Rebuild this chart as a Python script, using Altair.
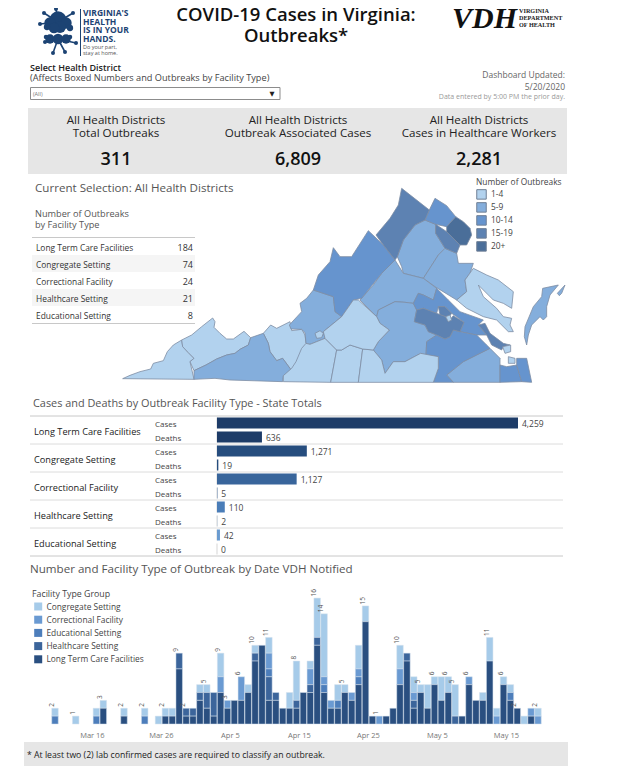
import altair as alt
import pandas as pd

FONT = "Open Sans"
W = 605

# ---------- headline figures ----------
kpi_heads = ["Total Outbreaks", "Outbreak Associated Cases", "Cases in Healthcare Workers"]
kpi_values = ["311", "6,809", "2,281"]

# ---------- outbreaks by facility ----------
table_cats = ["Long Term Care Facilities", "Congregate Setting", "Correctional Facility",
              "Healthcare Setting", "Educational Setting"]
table_vals = [184, 74, 24, 21, 8]

# ---------- cases and deaths ----------
cases = [4259, 1271, 1127, 110, 42]
deaths = [636, 19, 5, 2, 0]
case_colors = ["#1d3c68", "#264d7e", "#38659b", "#4a7db8", "#6a9bd0"]

# ---------- outbreaks per day, Mar 10 to May 19 ----------
ltc = [0,0,0,0,0,0,0,2,0,0, 1,0,0,0,0,0,1,1,7,1, 1,3,2,1,4,2,3,3,4,8, 10,3,3,2,2,2,4,4,10,4,
       2,2,4,3,5,13,1,0,1,2, 5,8,2,4,2,5,3,4,0,1, 5,3,3,8,0,5,3,2,0,1,0]
healthcare = [0,0,0,0,0,0,0,0,0,0, 0,0,0,0,0,0,0,0,2,1, 1,1,2,3,0,0,0,0,0,1, 0,3,1,0,0,1,0,1,1,0,
              0,0,0,0,0,0,0,0,0,0, 0,1,1,0,0,0,0,0,1,0, 0,0,0,0,0,0,0,0,0,0,0]
educational = [1,0,0,0,0,0,1,0,0,0, 0,0,0,1,0,0,0,0,0,0, 0,0,0,0,0,0,0,0,0,0, 0,1,0,0,0,0,0,0,0,1,
               0,1,0,0,1,0,0,0,0,0, 0,0,0,0,0,0,0,0,0,0, 0,0,0,0,0,0,1,0,0,0,0]
correctional = [0,0,0,0,0,0,0,0,0,0, 0,0,0,0,0,0,0,0,0,0, 0,0,0,0,2,1,0,3,0,0, 0,2,0,0,0,0,0,2,0,1,
                1,0,0,1,1,0,0,1,0,0, 2,0,1,0,0,0,0,0,0,0, 1,0,0,0,1,0,0,0,0,1,1]
congregate = [1,0,0,1,0,0,1,1,0,0, 1,0,0,1,0,1,1,1,0,0, 0,1,1,0,3,0,0,0,1,1, 0,2,0,0,2,5,0,1,5,8,
              0,2,1,0,3,2,0,0,0,0, 3,0,2,1,3,1,3,2,4,0, 0,0,1,3,1,1,1,0,1,0,1]
labeled_days = [0,3,7,10,13,16,18,19,22,24,25,27,29,31,35,38,39,42,45,47,50,53,55,57,58,60,63,65,67,70]
tick_days = ["Mar 16", "Mar 26", "Apr 5", "Apr 15", "Apr 25", "May 5", "May 15"]
group_names = ["Congregate Setting", "Correctional Facility", "Educational Setting",
               "Healthcare Setting", "Long Term Care Facilities"]
group_colors = ["#a6cbe9", "#6a9ad2", "#4d7ebb", "#3c659b", "#2a4f80"]
group_series = [congregate, correctional, educational, healthcare, ltc]

# ---------- map legend ----------
bins = ["1-4", "5-9", "10-14", "15-19", "20+"]
bin_colors = ["#b2d2ee", "#84aedc", "#6694ce", "#5d82b2", "#4a6e99"]

# ---------- health district outlines ----------
west = {
    "1-4": [
        [(8,266),(30,256),(60,245),(92,237),(100,220),(130,212),(142,185),(160,165),(185,150),(188,170),(205,188),(222,205),(210,215),(222,268)],
        [(185,150),(215,135),(245,110),(278,84),(285,95),(282,112),(300,130),(320,147),(340,147),(372,124),(392,143),(385,165),(360,178),(345,190),(320,195),(290,207),(258,225),(222,242),(210,215),(222,205),(205,188),(188,170)],
        [(430,130),(452,105),(470,115),(510,95),(515,122),(545,118),(555,135),(558,160),(570,165),(550,205),(515,242),(488,205),(470,212),(450,185),(445,160)],
    ],
    "5-9": [
        [(222,242),(258,225),(290,207),(320,195),(345,190),(360,178),(385,165),(392,143),(430,130),(445,160),(450,185),(470,212),(488,205),(515,242),(490,258),(488,275),(330,270),(285,265),(222,268)],
    ],
}
east = {
    "1-4": [
        [(60,478),(105,460),(140,495),(122,592),(-20,590),(-20,572),(5,550),(18,530),(35,490),(48,475)],
        [(140,495),(155,495),(180,480),(218,492),(205,592),(122,592)],
        [(218,492),(250,495),(275,525),(285,565),(310,530),(345,530),(392,505),(445,515),(445,550),(430,592),(205,592)],
        [(205,345),(260,395),(270,415),(298,435),(265,470),(250,495),(218,492),(180,480),(155,495),(140,495),(105,460),(100,440),(155,395),(190,345)],
        [(550,250),(590,270),(625,285),(670,320),(665,370),(640,355),(610,345),(565,300),(580,335),(620,370),(640,395),(665,400),(660,420),(670,440),(655,440),(620,405),(580,395),(530,370),(500,345),(530,320),(525,285)],
        [(638,485),(662,480),(662,500),(645,505)],
        [(655,515),(675,520),(675,535),(655,535)],
        [(467,395),(480,390),(485,405),(475,410)],
        [(75,445),(90,437),(100,445),(95,458),(80,460)],
    ],
    "5-9": [
        [(70,315),(130,335),(135,380),(155,395),(100,440),(105,460),(60,478),(48,475),(45,443),(35,433),(3,432),(-2,420),(35,380),(30,355),(50,340)],
        [(405,105),(437,118),(437,145),(465,190),(445,210),(400,280),(340,265),(335,245),(322,215),(340,165),(375,120)],
        [(465,190),(500,205),(505,235),(550,235),(540,265),(525,285),(530,320),(500,345),(435,305),(400,280),(445,210)],
        [(315,225),(340,265),(400,280),(440,310),(430,345),(400,330),(385,325),(370,355),(345,352),(315,350),(265,375),(260,395),(210,345),(250,300),(275,265)],
        [(260,395),(265,375),(315,350),(345,352),(370,355),(380,375),(373,410),(405,420),(415,440),(440,450),(410,470),(408,510),(392,505),(345,530),(310,530),(285,565),(275,525),(250,495),(265,470),(298,435),(270,415)],
        [(470,570),(520,530),(600,490),(630,520),(630,592),(490,592)],
    ],
    "10-14": [
        [(130,188),(150,215),(185,215),(235,137),(280,180),(315,225),(275,265),(215,340),(190,345),(155,395),(135,380),(130,335),(70,315),(85,270),(120,230)],
        [(435,40),(470,62),(497,95),(470,125),(437,118),(405,105),(418,75)],
        [(440,310),(475,345),(510,380),(580,405),(565,420),(590,450),(560,450),(510,440),(522,412),(500,395),(485,385),(465,365),(445,365),(440,385),(400,370),(380,375),(370,355),(385,325),(400,330),(430,345)],
        [(410,470),(440,450),(465,462),(480,455),(490,435),(510,440),(560,450),(590,480),(600,490),(520,530),(470,570),(490,592),(430,592),(445,550),(445,515),(408,510)],
        [(630,540),(650,545),(680,540),(695,590),(630,592)],
        [(680,520),(710,520),(725,592),(695,590),(680,540)],
    ],
    "15-19": [
        [(335,10),(418,75),(405,105),(375,120),(340,165),(322,215),(315,225),(280,180),(258,150),(300,100),(325,60)],
        [(437,118),(470,140),(510,180),(500,205),(465,190),(437,145)],
        [(445,365),(465,365),(485,385),(480,392),(467,395),(450,390)],
        [(400,370),(440,385),(467,395),(475,410),(490,392),(522,412),(510,440),(490,435),(480,455),(465,462),(440,450),(415,440),(405,420),(373,410),(380,375)],
        [(565,420),(585,415),(600,445),(640,475),(660,480),(640,485),(635,495),(605,480),(590,450)],
    ],
    "20+": [
        [(497,95),(520,110),(540,130),(545,150),(530,180),(510,180),(470,140),(470,125)],
    ],
}
shore = [(128,40),(175,30),(150,60),(140,95),(140,125),(130,135),(120,125),(95,150),(85,180),(80,210),(73,185),(75,155),(100,95),(125,65)]
shore_isle = [(172,55),(195,30),(185,55),(178,62)]

M_TOP = 176

def feature(ring, b):
    ring = [list(p) for p in ring]
    ring.append(ring[0])
    return {"type": "Feature", "properties": {"bin": b},
            "geometry": {"type": "Polygon", "coordinates": [ring]}}

features = []
for b, rings in west.items():
    for r in rings:
        features.append(feature([(120 + x / 3 - 8, 290 + y / 3 - M_TOP) for x, y in r], b))
for b in bins:
    for r in east.get(b, []):
        if b == "1-4":
            continue
        features.append(feature([(290 + x / 3 - 8, 185 + y / 3 - M_TOP) for x, y in r], b))
for r in east["1-4"]:
    features.append(feature([(290 + x / 3 - 8, 185 + y / 3 - M_TOP) for x, y in r], "1-4"))
for r in (shore, shore_isle):
    features.append(feature([(500 + x / 3 - 8, 275 + y / 3 - M_TOP) for x, y in r], "5-9"))

# ---------- logo shapes ----------
logo_spikes_x = [44, 56, 73, 40, 45, 53, 65, 76]
logo_spikes_y = [13, 9, 13, 24, 42, 53, 52, 43]
logo_body_x = [58, 66, 50, 60, 54, 47, 70]
logo_body_y = [20, 23, 23, 27, 28, 27, 28]
logo_body_r = [300, 130, 130, 140, 110, 40, 40]
logo_low_x = [50, 58, 66, 46, 70]
logo_low_y = [39, 39, 39, 37, 37]
logo_low_r = [90, 110, 90, 20, 20]


def text(s, x, y, top, size=9, color="#444444", weight="normal", align="left",
         font=FONT, italic=False):
    kw = {"fontStyle": "italic"} if italic else {}
    return alt.Chart(alt.Data(values=[{"t": s}])).mark_text(
        fontSize=size, color=color, fontWeight=weight, align=align, baseline="middle",
        font=font, clip=True, **kw
    ).encode(x=alt.value(x - 8), y=alt.value(y + 1 - top), text="t:N")


def box(x0, x1, y0, y1, top, fill, stroke=None):
    kw = {"stroke": stroke, "strokeWidth": 1} if stroke else {}
    return alt.Chart(alt.Data(values=[{"k": 1}])).mark_rect(fill=fill, **kw).encode(
        x=alt.value(x0 - 8), x2=alt.value(x1 - 8), y=alt.value(y0 - top), y2=alt.value(y1 - top))


def hline(x0, x1, y, top, color):
    return alt.Chart(alt.Data(values=[{"k": 1}])).mark_rule(color=color, strokeWidth=1).encode(
        x=alt.value(x0 - 8), x2=alt.value(x1 - 8), y=alt.value(y - top))


# ---------- header panel ----------
T0 = 8
NAVY = "#1c4373"
spike_df = pd.DataFrame({"x0": [50] * 8, "y0": [14] * 4 + [31] * 4,
                         "x": [v - 8 for v in logo_spikes_x], "y": [v - 8 for v in logo_spikes_y]})
body_df = pd.DataFrame({"x": [v - 8 for v in logo_body_x], "y": [v - 8 for v in logo_body_y], "r": logo_body_r})
low_df = pd.DataFrame({"x": [v - 8 for v in logo_low_x], "y": [v - 8 for v in logo_low_y], "r": logo_low_r})
tip_df = spike_df[["x", "y"]]

spikes = alt.Chart(spike_df).mark_rule(color=NAVY, strokeWidth=1.6, clip=True).encode(
    x=alt.X("x0:Q", scale=None, axis=None), x2="x:Q",
    y=alt.Y("y0:Q", scale=None, axis=None), y2="y:Q")
tips = alt.Chart(tip_df).mark_circle(color=NAVY, opacity=1, size=16, clip=True).encode(
    x=alt.X("x:Q", scale=None, axis=None), y=alt.Y("y:Q", scale=None, axis=None))
bodies = alt.Chart(pd.concat([body_df, low_df])).mark_circle(color=NAVY, opacity=1, clip=True).encode(
    x=alt.X("x:Q", scale=None, axis=None), y=alt.Y("y:Q", scale=None, axis=None),
    size=alt.Size("r:Q", scale=None, legend=None))

header_layers = [
    spikes, tips, bodies,
    box(80, 81, 9, 56, T0, NAVY),
    text("VIRGINIA'S", 83, 12, T0, 8.5, NAVY, "bold"),
    text("HEALTH", 83, 20.5, T0, 8.5, NAVY, "bold"),
    text("IS IN YOUR", 83, 29, T0, 8.5, NAVY, "bold"),
    text("HANDS.", 83, 37.5, T0, 8.5, NAVY, "bold"),
    text("Do your part,", 83, 46, T0, 5.5, "#555555"),
    text("stay at home.", 83, 52, T0, 5.5, "#555555"),
    text("COVID-19 Cases in Virginia:", 296, 14, T0, 18.5, "#111111", 600, "center"),
    text("Outbreaks*", 296, 35, T0, 18.5, "#111111", 600, "center"),
    text("VDH", 452, 18, T0, 30, "#111111", "bold", "left", "Liberation Serif", True),
    text("VIRGINIA", 519, 10, T0, 6.2, "#222222", "bold", "left", "Liberation Serif"),
    text("DEPARTMENT", 519, 17, T0, 6.2, "#222222", "bold", "left", "Liberation Serif"),
    text("OF HEALTH", 519, 24, T0, 6.2, "#222222", "bold", "left", "Liberation Serif"),
    text("Select Health District", 30, 67, T0, 9, "#222222", 600),
    text("(Affects Boxed Numbers and Outbreaks by Facility Type)", 30, 77, T0, 9.2, "#444444"),
    box(30.5, 280, 87.5, 99.5, T0, "#ffffff", "#8c8c8c"),
    text("(All)", 33, 93, T0, 5.5, "#777777"),
    text("\u25bc", 272, 93, T0, 6.5, "#222222", "normal", "center", "DejaVu Sans"),
    text("Dashboard Updated:", 565, 74, T0, 8.5, "#666666", "normal", "right"),
    text("5/20/2020", 565, 86, T0, 8.5, "#666666", "normal", "right"),
    text("Data entered by 5:00 PM the prior day.", 565, 96, T0, 7, "#999999", "normal", "right"),
    box(28, 567, 108, 174, T0, "#e6e6e6"),
]
for cx, head, val in zip([116, 298, 479], kpi_heads, kpi_values):
    header_layers += [
        text("All Health Districts", cx, 120, T0, 11.6, "#222222", "normal", "center"),
        text(head, cx, 133, T0, 11.6, "#222222", "normal", "center"),
        text(val, cx, 159, T0, 18, "#111111", 600, "center"),
    ]
panel_header = alt.layer(*header_layers).properties(width=W, height=M_TOP - T0)

# ---------- map and table panel ----------
districts = alt.Chart(alt.Data(values=features)).mark_geoshape(
    stroke="#7d8da3", strokeWidth=0.8
).encode(
    color=alt.Color("properties.bin:N", scale=alt.Scale(domain=bins, range=bin_colors),
                    legend=alt.Legend(title="Number of Outbreaks", orient="none", legendX=468, legendY=2,
                                      symbolType="square", symbolSize=90, symbolStrokeColor="#6f7f95",
                                      symbolStrokeWidth=1, symbolOpacity=1,
                                      titleFont=FONT, titleFontSize=8.4, titleFontWeight="normal", titleColor="#444444",
                                      labelFont=FONT, labelFontSize=8.4, labelColor="#444444",
                                      rowPadding=-2, titlePadding=2.5))
).project(type="identity", scale=1, translate=[0, 0])

table_df = pd.DataFrame({"cat": table_cats, "val": table_vals})
ty = alt.Y("cat:N", scale=alt.Scale(domain=table_cats, range=[238 - M_TOP, 323 - M_TOP],
                                    paddingInner=0, paddingOuter=0), axis=None)
shade = alt.Chart(table_df[table_df.index.isin([1, 3])]).mark_rect(fill="#f5f5f5").encode(
    x=alt.value(24), x2=alt.value(187), y=ty)
names = alt.Chart(table_df).mark_text(align="left", dy=1, font=FONT, fontSize=8.4, color="#333333").encode(
    x=alt.value(28), y=ty, text="cat:N")
nums = alt.Chart(table_df).mark_text(align="right", dy=1, font=FONT, fontSize=9, color="#333333").encode(
    x=alt.value(185), y=ty, text="val:Q")

panel_map = alt.layer(
    districts, shade, names, nums,
    text("Current Selection: All Health Districts", 35, 188, M_TOP, 11.6, "#555555"),
    text("Number of Outbreaks", 35, 213, M_TOP, 9.2, "#555555"),
    text("by Facility Type", 35, 224, M_TOP, 9.2, "#555555"),
    hline(32, 195, 237.5, M_TOP, "#c8c8c8"),
    hline(32, 195, 323.5, M_TOP, "#c8c8c8"),
).properties(width=W, height=395 - M_TOP)

# ---------- cases and deaths panel ----------
B0 = 395
rows = []
for c, v, d, col in zip(table_cats, cases, deaths, case_colors):
    rows.append({"key": c + "|Cases", "cat": c, "metric": "Cases", "v": v})
    rows.append({"key": c + "|Deaths", "cat": c, "metric": "Deaths", "v": d})
bar_df = pd.DataFrame(rows)
keys = list(bar_df["key"])
by = alt.Y("key:N", scale=alt.Scale(domain=keys, range=[416 - B0, 556 - B0], paddingInner=0, paddingOuter=0), axis=None)
bx = alt.X("v:Q", scale=alt.Scale(domain=[0, 4259], range=[217 - 8, 518 - 8], nice=False), axis=None)

zero_line = alt.Chart(bar_df).mark_tick(orient="vertical", size=11, thickness=1, color="#c4c4c4").encode(
    x=alt.X("z:Q", scale=alt.Scale(domain=[0, 4259], range=[217 - 8, 518 - 8], nice=False), axis=None), y=by
).transform_calculate(z="0")
hbars = alt.Chart(bar_df).mark_bar(size=11).encode(
    x=bx, y=by,
    color=alt.Color("cat:N", scale=alt.Scale(domain=table_cats, range=case_colors), legend=None))
hvals = alt.Chart(bar_df).mark_text(align="left", dx=4, dy=1, font=FONT, fontSize=8.5, color="#444444").encode(
    x=bx, y=by, text=alt.Text("v:Q", format=","))
metric = alt.Chart(bar_df).mark_text(align="left", dy=2, font=FONT, fontSize=8, color="#444444").encode(
    x=alt.value(147), y=by, text="metric:N")
cases_only = bar_df[bar_df["metric"] == "Cases"]
fac = alt.Chart(cases_only).mark_text(align="left", dy=9, font=FONT, fontSize=9.2, color="#222222").encode(
    x=alt.value(26), y=by, text="cat:N")
seps = alt.Chart(cases_only.iloc[1:]).mark_rule(color="#dcdcdc", strokeWidth=1).encode(
    x=alt.value(22), x2=alt.value(555),
    y=alt.Y("key:N", bandPosition=0,
            scale=alt.Scale(domain=keys, range=[416 - B0, 556 - B0], paddingInner=0, paddingOuter=0), axis=None))

panel_bars = alt.layer(
    zero_line, hbars, hvals, metric, fac, seps,
    text("Cases and Deaths by Outbreak Facility Type - State Totals", 33, 403, B0, 10.9, "#555555"),
    hline(30, 563, 416, B0, "#c8c8c8"),
    hline(30, 563, 556, B0, "#c8c8c8"),
).resolve_scale(color="independent").properties(width=W, height=558 - B0)

# ---------- daily stacked bars panel ----------
D0 = 558
BASE = 724
days = [d.strftime("%b ") + str(d.day) for d in pd.date_range("2020-03-10", "2020-05-19")]
long_rows = []
for g, series in zip(group_names, group_series):
    for d, v in zip(days, series):
        if v:
            long_rows.append({"day": d, "group": g, "n": v, "rank": group_names[::-1].index(g)})
long_df = pd.DataFrame(long_rows)
totals = [sum(s[i] for s in group_series) for i in range(len(days))]
tot_df = pd.DataFrame({"day": [days[i] for i in labeled_days], "total": [totals[i] for i in labeled_days]})

dx_scale = alt.Scale(domain=days, range=[51.55 - 8, 51.55 - 8 + 6.9 * 71], paddingInner=0, paddingOuter=0)
dx = alt.X("day:N", scale=dx_scale,
           axis=alt.Axis(values=tick_days, labelAngle=0, ticks=False, domain=False, grid=False, title=None,
                         labelFont=FONT, labelFontSize=7.5, labelColor="#777777", labelPadding=7, labelOffset=-4))
dy_scale = alt.Scale(domain=[0, (BASE - D0) / 7.87], nice=False, zero=True)

stack = alt.Chart(long_df).mark_bar(size=6.5, stroke="#d4e0ec", strokeWidth=0.5).encode(
    x=dx,
    y=alt.Y("n:Q", stack="zero", scale=dy_scale, axis=None),
    order=alt.Order("rank:Q"),
    color=alt.Color("group:N", scale=alt.Scale(domain=group_names, range=group_colors),
                    legend=alt.Legend(title="Facility Type Group", orient="none", legendX=24, legendY=32,
                                      symbolType="square", symbolSize=64, symbolStrokeWidth=0, symbolOpacity=1,
                                      symbolOffset=2,
                                      titleFont=FONT, titleFontSize=8.8, titleFontWeight="normal", titleColor="#444444",
                                      labelFont=FONT, labelFontSize=8.4, labelColor="#444444",
                                      rowPadding=4.2, titlePadding=3.5)))
tot = alt.Chart(tot_df).mark_text(angle=270, align="left", baseline="middle", dy=-3, dx=1.5,
                                  font=FONT, fontSize=6.5, color="#555555").encode(
    x=dx,
    y=alt.Y("total:Q", scale=dy_scale, axis=None),
    text="total:Q")
panel_days = alt.layer(
    stack, tot,
    text("Number and Facility Type of Outbreak by Date VDH Notified", 30, 569, D0, 11.6, "#555555"),
).properties(width=W, height=BASE - D0)

# ---------- footnote panel ----------
panel_note = alt.layer(
    box(24, 568, 742, 766, BASE, "#e6e6e6"),
    text("* At least two (2) lab confirmed cases are required to classify an outbreak.", 27, 754, BASE, 8.7, "#222222"),
).properties(width=W, height=766 - BASE)

chart = alt.vconcat(panel_header, panel_map, panel_bars, panel_days, panel_note,
                    spacing=0, bounds="flush").resolve_scale(color="independent").properties(
    padding=0, background="#ffffff"
).configure_view(stroke=None)

chart.save("out.html", embed_options={"renderer": "svg", "actions": False})
